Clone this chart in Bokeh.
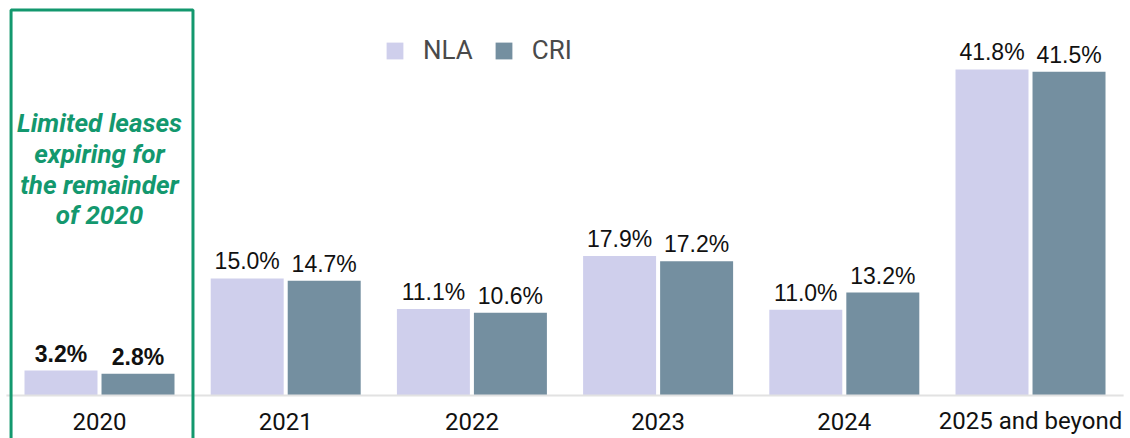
from bokeh.plotting import figure
from bokeh.models import ColumnDataSource, BoxAnnotation, Label, Legend, LegendItem, Range1d
from bokeh.core.properties import value
from bokeh.transform import dodge
from bokeh.embed import file_html
from bokeh.resources import INLINE

categories = ["2020", "2021", "2022", "2023", "2024", "2025 and beyond"]
nla = [3.2, 15.0, 11.1, 17.9, 11.0, 41.8]
cri = [2.8, 14.7, 10.6, 17.2, 13.2, 41.5]
series_names = ["NLA", "CRI"]
note_text = "Limited leases\nexpiring for\nthe remainder\nof 2020"

NLA_COLOR = "#CFCFEC"
CRI_COLOR = "#748FA0"
GREEN = "#13986E"

xs = list(range(len(categories)))


def make_src(idx):
    return ColumnDataSource(dict(
        x=[xs[i] for i in idx],
        nla=[nla[i] for i in idx],
        cri=[cri[i] for i in idx],
        nla_lbl=[f"{nla[i]:.1f}%" for i in idx],
        cri_lbl=[f"{cri[i]:.1f}%" for i in idx],
    ))


src = make_src(xs)

p = figure(width=1130, height=438, output_backend="svg", toolbar_location=None,
           x_range=Range1d(-0.5317, 5.537), y_range=Range1d(-5.513, 50.64),
           x_axis_location=None, y_axis_location=None,
           min_border_left=0, min_border_right=0, min_border_top=0, min_border_bottom=0)
p.outline_line_color = None
p.grid.visible = False

bw = 0.392
off = 0.2068
r1 = p.vbar(x=dodge("x", -off), top="nla", width=bw, source=src, fill_color=NLA_COLOR, line_color=None)
r2 = p.vbar(x=dodge("x", off), top="cri", width=bw, source=src, fill_color=CRI_COLOR, line_color=None)

# baseline (category axis line)
p.segment(x0=[min(xs) - 0.5], x1=[max(xs) + 0.5], y0=[0], y1=[0],
          line_color="#E2E2E2", line_width=2)

# value labels (first category bold)
for s, style in ((make_src(xs[:1]), "bold"), (make_src(xs[1:]), "normal")):
    for col, lbl, d in (("nla", "nla_lbl", -off), ("cri", "cri_lbl", off)):
        p.text(x=dodge("x", d), y=col, text=lbl, source=s, text_align="center",
               text_baseline="alphabetic", y_offset=-17, text_font_size="23px",
               text_font_style=style, text_color="#111111",
               text_font=value("Liberation Sans"))

# category labels
p.text(x=xs, y=[0] * len(xs), text=categories, text_align="center",
       text_baseline="alphabetic", y_offset=26, text_font_size="24px",
       text_color="#111111", text_font=value("Roboto"))

# highlight box for 2020
box = BoxAnnotation(left=-0.475, right=0.502, top=49.42, bottom=-10,
                    fill_color=None, fill_alpha=0, line_color=GREEN, line_alpha=1.0,
                    line_width=3)
p.add_layout(box)

note = Label(x=0, y=29.0, text=note_text, text_align="center", text_baseline="middle",
             text_font="Roboto", text_font_style="bold italic", text_font_size="26px",
             text_color=GREEN, text_line_height=1.02)
p.add_layout(note)

legend = Legend(items=[LegendItem(label=series_names[0], renderers=[r1]),
                       LegendItem(label=series_names[1], renderers=[r2])],
                orientation="horizontal", location=(384, 373),
                glyph_width=21, glyph_height=21, label_standoff=18, spacing=20,
                padding=0, margin=0, border_line_color=None, background_fill_alpha=0,
                label_text_font="Roboto", label_text_font_size="26px",
                label_text_color="#4A4A4A")
p.add_layout(legend, "center")

open("out.html", "w").write(file_html(p, INLINE))
